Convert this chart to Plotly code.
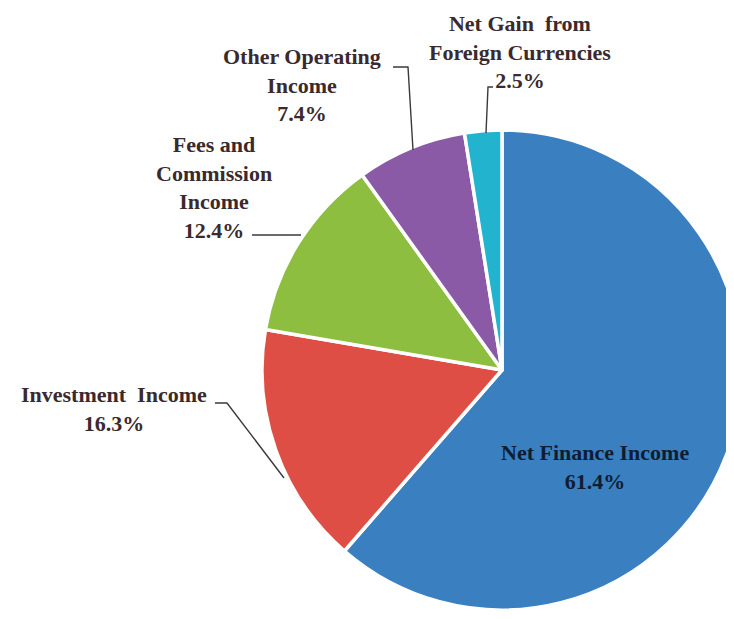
import plotly.graph_objects as go

# ---- data ----
categories = ["Net Finance Income", "Investment Income", "Fees and Commission Income",
              "Other Operating Income", "Net Gain from Foreign Currencies"]
label_lines = ["Net Finance Income", "Investment  Income", "Fees and<br>Commission<br>Income",
               "Other Operating<br>Income", "Net Gain  from<br>Foreign Currencies"]
shares = [61.4, 16.3, 12.4, 7.4, 2.5]
colors = ["#3a7fc0", "#df4e44", "#8dbe3f", "#8b5aa6", "#22b3cf"]

W, H = 734, 619
OFF = 8  # page body margin: screen = figure + OFF
# desired pie on screen
cx, cy, r = 502, 370, 240

def px(x):
    return (x - OFF) / W

def py(y):
    return 1 - (y - OFF) / H

fig = go.Figure(go.Pie(
    labels=categories,
    values=shares,
    sort=False,
    direction="clockwise",
    rotation=0,
    textinfo="none",
    hoverinfo="label+percent",
    marker=dict(colors=colors, line=dict(color="white", width=3.5)),
    domain=dict(x=[px(cx - r), min(1.0, px(cx + r))], y=[py(cy + r), py(cy - r)]),
    showlegend=False,
))

font_out = dict(family="Liberation Serif", size=22, color="#3a2a2e")
font_in = dict(family="Liberation Serif", size=22, color="#0f1d33")

# label block centres (screen pixels)
label_pos = [(595, 467), (114, 409), (214, 187), (302, 85), (520, 52)]

for i, (lx, ly) in enumerate(label_pos):
    txt = f"<b>{label_lines[i]}<br>{shares[i]}%</b>"
    fig.add_annotation(x=px(lx), y=py(ly), xref="paper", yref="paper",
                       text=txt, showarrow=False, xanchor="center", yanchor="middle",
                       align="center", font=font_in if i == 0 else font_out)

# leader lines (screen pixel paths)
leaders = [
    [(215, 403), (227, 403), (284, 478)],   # Investment
    [(252, 235), (301, 235)],               # Fees
    [(393, 67), (408, 67), (413, 150)],     # Other operating
    [(493, 87), (488, 87), (486, 133)],     # Net gain
]
for pts in leaders:
    d = "M " + " L ".join(f"{px(x)},{py(y)}" for x, y in pts)
    fig.add_shape(type="path", path=d, xref="paper", yref="paper",
                  line=dict(color="#3a3a3a", width=1.4))

fig.update_layout(width=W, height=H, margin=dict(l=0, r=0, t=0, b=0),
                  paper_bgcolor="white", plot_bgcolor="white")

fig.write_html("out.html")
